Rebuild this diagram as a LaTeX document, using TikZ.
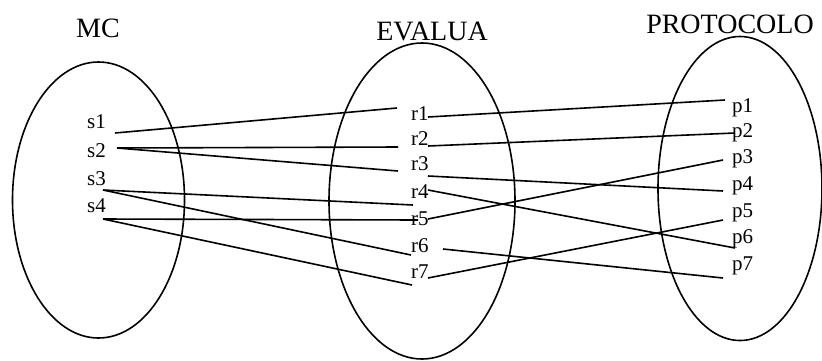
\documentclass[tikz,border=0pt]{standalone}
\usepackage{fontspec}
\setmainfont{Liberation Serif}
\usetikzlibrary{positioning, calc}
\tikzset{
	set/.style={draw, line width=1.6pt},
	title/.style={font=\fontsize{28}{31}\selectfont, inner sep=0pt, anchor=base},
	elem/.style={font=\fontsize{21}{25}\selectfont, inner sep=0pt, anchor=base west},
	link/.style={line width=1.6pt},
}

\begin{document}
\begin{tikzpicture}[x=1pt, y=-1pt]
		\useasboundingbox (0,0) rectangle (822,360);
		\node[title] (MC) at (98,37) {MC};
		\node[title] (EVALUA) at (432,40) {EVALUA};
		\node[title] (PROTOCOLO) at (730,33) {PROTOCOLO};

		\draw[set] (98.5,200) ellipse [x radius=86, y radius=138];
		\draw[set] (422,201) ellipse [x radius=93, y radius=158];
		\draw[set] (740,188.5) ellipse [x radius=82, y radius=152];

		\node[elem] (s1) at (87,128) {s1};
		\node[elem] (s2) at (87,157) {s2};
		\node[elem] (s3) at (87,185) {s3};
		\node[elem] (s4) at (87,212) {s4};

		\node[elem] (r1) at (411,120) {r1};
		\node[elem] (r2) at (411,145) {r2};
		\node[elem] (r3) at (411,170) {r3};
		\node[elem] (r4) at (411,198) {r4};
		\node[elem] (r5) at (411,225) {r5};
		\node[elem] (r6) at (411,252) {r6};
		\node[elem] (r7) at (411,278) {r7};

		\node[elem] (p1) at (732,112) {p1};
		\node[elem] (p2) at (732,137) {p2};
		\node[elem] (p3) at (732,163) {p3};
		\node[elem] (p4) at (732,190) {p4};
		\node[elem] (p5) at (732,217) {p5};
		\node[elem] (p6) at (732,243) {p6};
		\node[elem] (p7) at (732,270) {p7};

		% line ends beside the labels
		\coordinate (s1o) at (115,133);
		\coordinate (s2o) at (117,148);
		\coordinate (s3o) at (103,190);
		\coordinate (s4o) at (103,219);
		%
		\coordinate (r1i) at (397,108);
		\coordinate (r2i) at (398,147);
		\coordinate (r3i) at (398,171);
		\coordinate (r4i) at (413,205);
		\coordinate (r5i) at (418,220);
		\coordinate (r6i) at (411,255);
		\coordinate (r7i) at (412,285);
		%
		\coordinate (r1o) at (428,117);
		\coordinate (r2o) at (428,146);
		\coordinate (r3o) at (428,176);
		\coordinate (r4o) at (428,190);
		\coordinate (r5o) at (428,219);
		\coordinate (r6o) at (443,249);
		\coordinate (r7o) at (428,278);
		%
		\coordinate (p1i) at (725,100);
		\coordinate (p2i) at (735,133);
		\coordinate (p3i) at (723,160);
		\coordinate (p4i) at (723,191);
		\coordinate (p5i) at (723,220);
		\coordinate (p6i) at (735,248);
		\coordinate (p7i) at (723,278);

		\draw[link]
			(s1o) edge (r1i)
			%
			(s2o) edge (r2i)
			(s2o) edge (r3i)
			%
			(s3o) edge (r4i)
			(s3o) edge (r6i)
			%
			(s4o) edge (r5i)
			(s4o) edge (r7i)
			%
			(r1o) edge (p1i)
			(r2o) edge (p2i)
			(r3o) edge (p4i)
			(r4o) edge (p6i)
			(r5o) edge (p3i)
			(r6o) edge (p7i)
			(r7o) edge (p5i)
		;
	\end{tikzpicture}
\end{document}
